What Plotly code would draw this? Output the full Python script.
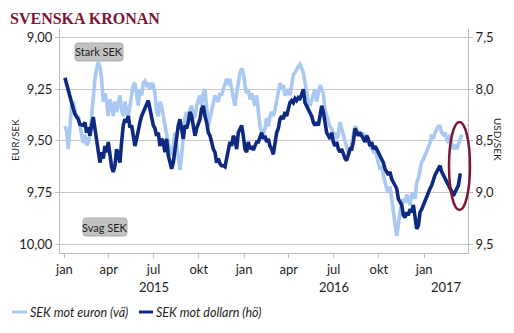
import pandas as pd
import plotly.graph_objects as go

# Observations roughly every 3.4 days, 2 Jan 2015 - mid March 2017
N_OBS = 239
dates = pd.date_range("2015-01-02", periods=N_OBS, freq="4878min")

# EUR/SEK (left axis)
eur_sek = [
    # 2015 Q1-Q3
    9.43, 9.45, 9.54, 9.44, 9.33, 9.31, 9.36, 9.39, 9.38, 9.44,
    9.47, 9.51, 9.47, 9.52, 9.51, 9.47, 9.38, 9.27, 9.20, 9.15,
    9.12, 9.14, 9.20, 9.31, 9.27, 9.31, 9.38, 9.30, 9.33, 9.38,
    9.31, 9.36, 9.31, 9.28, 9.35, 9.38, 9.31, 9.36, 9.39, 9.33,
    9.28, 9.23, 9.22, 9.28, 9.33, 9.25, 9.28, 9.22, 9.21, 9.23,
    9.22, 9.25, 9.22, 9.23,
    # 2015 Q3 - 2016 Q1
    9.27, 9.36, 9.38, 9.31, 9.33, 9.38, 9.43, 9.46, 9.51, 9.55,
    9.57, 9.52, 9.46, 9.52, 9.60, 9.64, 9.57, 9.46, 9.39, 9.36,
    9.41, 9.35, 9.33, 9.39, 9.38, 9.33, 9.31, 9.28, 9.33, 9.27,
    9.25, 9.36, 9.43, 9.39, 9.35, 9.31, 9.28, 9.30, 9.31, 9.27,
    9.28, 9.25, 9.22, 9.20, 9.23, 9.20, 9.25, 9.30, 9.33, 9.27,
    9.22, 9.17, 9.15, 9.17, 9.23, 9.27, 9.25, 9.30, 9.27, 9.31,
    # 2016 Q1 - Q4
    9.33, 9.28, 9.35, 9.43, 9.46, 9.47, 9.44, 9.39, 9.43, 9.38,
    9.36, 9.38, 9.35, 9.31, 9.27, 9.22, 9.25, 9.23, 9.28, 9.27,
    9.25, 9.28, 9.23, 9.18, 9.17, 9.15, 9.14, 9.13, 9.15, 9.17,
    9.22, 9.27, 9.31, 9.33, 9.30, 9.27, 9.25, 9.31, 9.27, 9.23,
    9.25, 9.27, 9.35, 9.38, 9.41, 9.43, 9.44, 9.47, 9.46, 9.49,
    9.47, 9.41, 9.44, 9.47, 9.51, 9.54, 9.56, 9.54, 9.52, 9.47,
    # 2016 Q4 - 2017 Q1
    9.43, 9.44, 9.47, 9.46, 9.47, 9.46, 9.49, 9.47, 9.51, 9.52,
    9.54, 9.55, 9.54, 9.57, 9.60, 9.64, 9.62, 9.67, 9.70, 9.73,
    9.75, 9.72, 9.78, 9.84, 9.89, 9.96, 9.91, 9.84, 9.81, 9.78,
    9.80, 9.76, 9.78, 9.81, 9.76, 9.75, 9.78, 9.70, 9.68, 9.64,
    9.60, 9.59, 9.57, 9.54, 9.52, 9.51, 9.47, 9.49, 9.46, 9.44,
    9.43, 9.43, 9.46, 9.47, 9.46, 9.49, 9.51, 9.47, 9.52, 9.54,
    9.52, 9.54, 9.52, 9.49, 9.47,
]

# USD/SEK (right axis)
usd_sek = [
    # 2015 Q1-Q3
    7.89, 7.95, 8.03, 8.09, 8.16, 8.19, 8.24, 8.27, 8.29, 8.34,
    8.35, 8.35, 8.32, 8.42, 8.37, 8.45, 8.35, 8.27, 8.38, 8.51,
    8.63, 8.71, 8.61, 8.67, 8.55, 8.61, 8.51, 8.67, 8.75, 8.80,
    8.74, 8.58, 8.64, 8.71, 8.51, 8.35, 8.29, 8.32, 8.26, 8.37,
    8.35, 8.45, 8.55, 8.48, 8.38, 8.32, 8.26, 8.22, 8.19, 8.13,
    8.11, 8.19, 8.29, 8.35,
    # 2015 Q3 - 2016 Q1
    8.38, 8.45, 8.42, 8.55, 8.48, 8.51, 8.61, 8.48, 8.64, 8.71,
    8.77, 8.71, 8.58, 8.45, 8.35, 8.29, 8.42, 8.48, 8.35, 8.38,
    8.32, 8.22, 8.26, 8.38, 8.45, 8.38, 8.32, 8.29, 8.19, 8.16,
    8.26, 8.32, 8.42, 8.45, 8.51, 8.58, 8.61, 8.71, 8.67, 8.72,
    8.74, 8.74, 8.75, 8.67, 8.58, 8.51, 8.55, 8.45, 8.48, 8.58,
    8.42, 8.38, 8.35, 8.45, 8.58, 8.61, 8.51, 8.58, 8.55, 8.59,
    # 2016 Q1 - Q4
    8.55, 8.51, 8.51, 8.45, 8.42, 8.48, 8.45, 8.51, 8.48, 8.55,
    8.58, 8.63, 8.51, 8.42, 8.38, 8.29, 8.26, 8.29, 8.22, 8.26,
    8.19, 8.13, 8.11, 8.13, 8.09, 8.11, 8.08, 8.09, 8.05, 8.00,
    8.13, 8.16, 8.19, 8.22, 8.26, 8.32, 8.35, 8.32, 8.35, 8.26,
    8.16, 8.22, 8.35, 8.42, 8.45, 8.48, 8.42, 8.51, 8.55, 8.51,
    8.58, 8.61, 8.58, 8.64, 8.67, 8.69, 8.64, 8.58, 8.58, 8.51,
    # 2016 Q4 - 2017 Q1
    8.38, 8.42, 8.45, 8.42, 8.45, 8.48, 8.51, 8.45, 8.48, 8.55,
    8.51, 8.58, 8.55, 8.58, 8.61, 8.64, 8.67, 8.71, 8.77, 8.80,
    8.83, 8.80, 8.87, 8.90, 8.93, 8.96, 9.06, 9.09, 9.12, 9.22,
    9.24, 9.19, 9.22, 9.16, 9.19, 9.12, 9.22, 9.35, 9.32, 9.19,
    9.16, 9.12, 9.06, 9.03, 8.99, 8.96, 8.93, 8.87, 8.83, 8.80,
    8.77, 8.74, 8.80, 8.83, 8.87, 8.90, 8.93, 8.96, 8.99, 9.03,
    8.99, 8.96, 8.93, 8.83, 8.83,
]

# Quarterly x ticks (Swedish month abbreviations) and year labels
tick_dates = ["2015-01-01", "2015-04-01", "2015-07-01", "2015-10-01",
              "2016-01-01", "2016-04-01", "2016-07-01", "2016-10-01",
              "2017-01-01"]
tick_text = ["jan", "apr", "jul", "okt", "jan", "apr", "jul", "okt", "jan"]
year_labels = ["2015", "2016", "2017"]
year_pos = ["2015-07-01", "2016-07-01", "2017-02-15"]

left_ticks = [9.00, 9.25, 9.50, 9.75, 10.00]
right_ticks = [7.5, 8.0, 8.5, 9.0, 9.5]

LIGHT = "#a9c8f2"
DARK = "#0e2a80"
MAROON = "#7d1636"
AXIS = "#bdbdbd"
GRID = "#c9c9c9"
TXT = "#1e1e1e"
FONT = "Lato"

W, H = 514, 333
L, R, T, B = 60, 46, 29, 80
PW, PH = W - L - R, H - T - B


def px(x):
    return (x - L) / PW


def py(y):
    return (T + PH - y) / PH


fig = go.Figure()
fig.add_trace(go.Scatter(
    x=dates, y=eur_sek, name="SEK mot euron (vä)", mode="lines",
    line=dict(color=LIGHT, width=3.6), yaxis="y", showlegend=False))
fig.add_trace(go.Scatter(
    x=dates, y=usd_sek, name="SEK mot dollarn (hö)", mode="lines",
    line=dict(color=DARK, width=3.6), yaxis="y2", showlegend=False))

shapes = []
annotations = []


def rounded_box(x0, y0, x1, y1, r=3):
    # rounded rectangle in pixel units, expressed as a paper-space path
    pts = (f"M{px(x0 + r)},{py(y0)} L{px(x1 - r)},{py(y0)} "
           f"Q{px(x1)},{py(y0)} {px(x1)},{py(y0 + r)} "
           f"L{px(x1)},{py(y1 - r)} Q{px(x1)},{py(y1)} {px(x1 - r)},{py(y1)} "
           f"L{px(x0 + r)},{py(y1)} Q{px(x0)},{py(y1)} {px(x0)},{py(y1 - r)} "
           f"L{px(x0)},{py(y0 + r)} Q{px(x0)},{py(y0)} {px(x0 + r)},{py(y0)} Z")
    return dict(type="path", xref="paper", yref="paper", path=pts,
                fillcolor="#c2c2c2", line=dict(color="#adadad", width=1),
                layer="above")


# Strong / weak krona markers
for label, (x0, y0, x1, y1) in [("Stark SEK", (75, 43, 123, 61)),
                                ("Svag SEK", (83, 218, 127, 236))]:
    shapes.append(rounded_box(x0, y0, x1, y1))
    annotations.append(dict(
        x=px((x0 + x1) / 2), y=py((y0 + y1) / 2), xref="paper", yref="paper",
        text=label, showarrow=False, xanchor="center", yanchor="middle",
        font=dict(family=FONT, size=11, color=TXT)))

# Highlight of the latest movement
shapes.append(dict(type="circle", xref="paper", yref="paper",
                   x0=px(449), x1=px(470), y0=py(210), y1=py(122),
                   line=dict(color=MAROON, width=2.5), layer="above"))

# Title
annotations.append(dict(
    x=px(8), y=py(18), xref="paper", yref="paper", text="<b>SVENSKA KRONAN</b>",
    showarrow=False, xanchor="left", yanchor="middle",
    font=dict(family="Liberation Serif", size=16, color=MAROON)))

# Axis titles
annotations.append(dict(
    x=px(15), y=py(140), xref="paper", yref="paper", text="EUR/SEK",
    textangle=-90, showarrow=False, xanchor="center", yanchor="middle",
    font=dict(family=FONT, size=10, color=TXT)))
annotations.append(dict(
    x=px(498), y=py(139), xref="paper", yref="paper", text="USD/SEK",
    textangle=90, showarrow=False, xanchor="center", yanchor="middle",
    font=dict(family=FONT, size=10, color=TXT)))

# Year labels under the month ticks
for yl, yp in zip(year_labels, year_pos):
    annotations.append(dict(
        x=yp, y=py(287), xref="x", yref="paper", text=yl, showarrow=False,
        xanchor="center", yanchor="middle",
        font=dict(family=FONT, size=13, color=TXT)))

# Legend
legend_items = [("SEK mot euron (vä)", LIGHT, 12, 27),
                ("SEK mot dollarn (hö)", DARK, 139, 153)]
for text, color, sx0, sx1 in legend_items:
    shapes.append(dict(type="line", xref="paper", yref="paper",
                       x0=px(sx0), x1=px(sx1), y0=py(312), y1=py(312),
                       line=dict(color=color, width=3)))
    annotations.append(dict(
        x=px(sx1 + 1), y=py(312), xref="paper", yref="paper",
        text=f"<i>{text}</i>", showarrow=False, xanchor="left",
        yanchor="middle", font=dict(family=FONT, size=12.5, color=TXT)))

fig.update_layout(
    width=W, height=H,
    margin=dict(l=L, r=R, t=T, b=B),
    paper_bgcolor="white", plot_bgcolor="white",
    separators=", ",
    showlegend=False,
    shapes=shapes, annotations=annotations,
    xaxis=dict(
        range=["2014-12-23", "2017-03-31"], tickvals=tick_dates,
        ticktext=tick_text, showgrid=False, showline=True, linecolor=AXIS,
        linewidth=1, ticks="outside", ticklen=4, tickcolor=AXIS,
        tickfont=dict(family=FONT, size=13, color=TXT), zeroline=False),
    yaxis=dict(
        range=[10.042, 8.959], tickvals=left_ticks, tickformat=".2f",
        showgrid=True, gridcolor=GRID, gridwidth=1, showline=True,
        linecolor=AXIS, ticks="outside", ticklen=4, tickcolor=AXIS,
        tickfont=dict(family=FONT, size=13, color=TXT), zeroline=False),
    yaxis2=dict(
        range=[9.584, 7.418], tickvals=right_ticks, tickformat=".1f",
        overlaying="y", side="right", showgrid=False, showline=True,
        linecolor=AXIS, ticks="outside", ticklen=4, tickcolor=AXIS,
        tickfont=dict(family=FONT, size=13, color=TXT), zeroline=False),
)

fig.write_html("out.html")
